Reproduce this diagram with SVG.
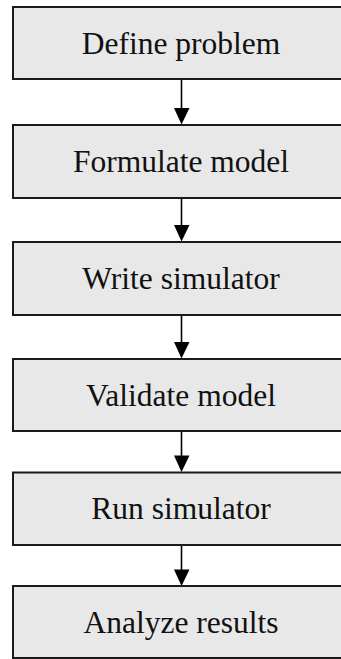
<svg xmlns="http://www.w3.org/2000/svg" width="341" height="659" viewBox="0 0 341 659">
  <style>
    .box { fill: #e8e8e8; stroke: #1a1a1a; stroke-width: 2; }
    .label { font-family: "Liberation Serif", "Times New Roman", serif; font-size: 31.5px; fill: #111; text-anchor: middle; }
    .edge { stroke: #000; stroke-width: 1.6; fill: none; }
    .head { fill: #000; }
  </style>
  <rect width="341" height="659" fill="#ffffff"/>

  <g id="connectors">
    <line class="edge" x1="181.5" y1="80" x2="181.5" y2="110"/>
    <polygon class="head" points="174,108 189.5,108 181.5,124.5"/>
    <line class="edge" x1="181.5" y1="199" x2="181.5" y2="227"/>
    <polygon class="head" points="174,225 189.5,225 181.5,241.5"/>
    <line class="edge" x1="181.5" y1="316" x2="181.5" y2="344"/>
    <polygon class="head" points="174,342 189.5,342 181.5,358.5"/>
    <line class="edge" x1="181.5" y1="432" x2="181.5" y2="457"/>
    <polygon class="head" points="174,455.5 189.5,455.5 181.5,472"/>
    <line class="edge" x1="181.5" y1="545" x2="181.5" y2="571"/>
    <polygon class="head" points="174,569.5 189.5,569.5 181.5,586"/>
  </g>

  <g id="define-problem">
    <rect class="box" x="13" y="7" width="336" height="72"/>
    <text class="label" x="181" y="53.5">Define problem</text>
  </g>
  <g id="formulate-model">
    <rect class="box" x="13" y="125" width="336" height="73"/>
    <text class="label" x="181" y="172">Formulate model</text>
  </g>
  <g id="write-simulator">
    <rect class="box" x="13" y="242" width="336" height="73"/>
    <text class="label" x="181" y="289">Write simulator</text>
  </g>
  <g id="validate-model">
    <rect class="box" x="13" y="359" width="336" height="72"/>
    <text class="label" x="181" y="405.5">Validate model</text>
  </g>
  <g id="run-simulator">
    <rect class="box" x="13" y="472.5" width="336" height="72.5"/>
    <text class="label" x="181" y="519">Run simulator</text>
  </g>
  <g id="analyze-results">
    <rect class="box" x="13" y="586" width="336" height="72"/>
    <text class="label" x="181" y="632.5">Analyze results</text>
  </g>
</svg>
